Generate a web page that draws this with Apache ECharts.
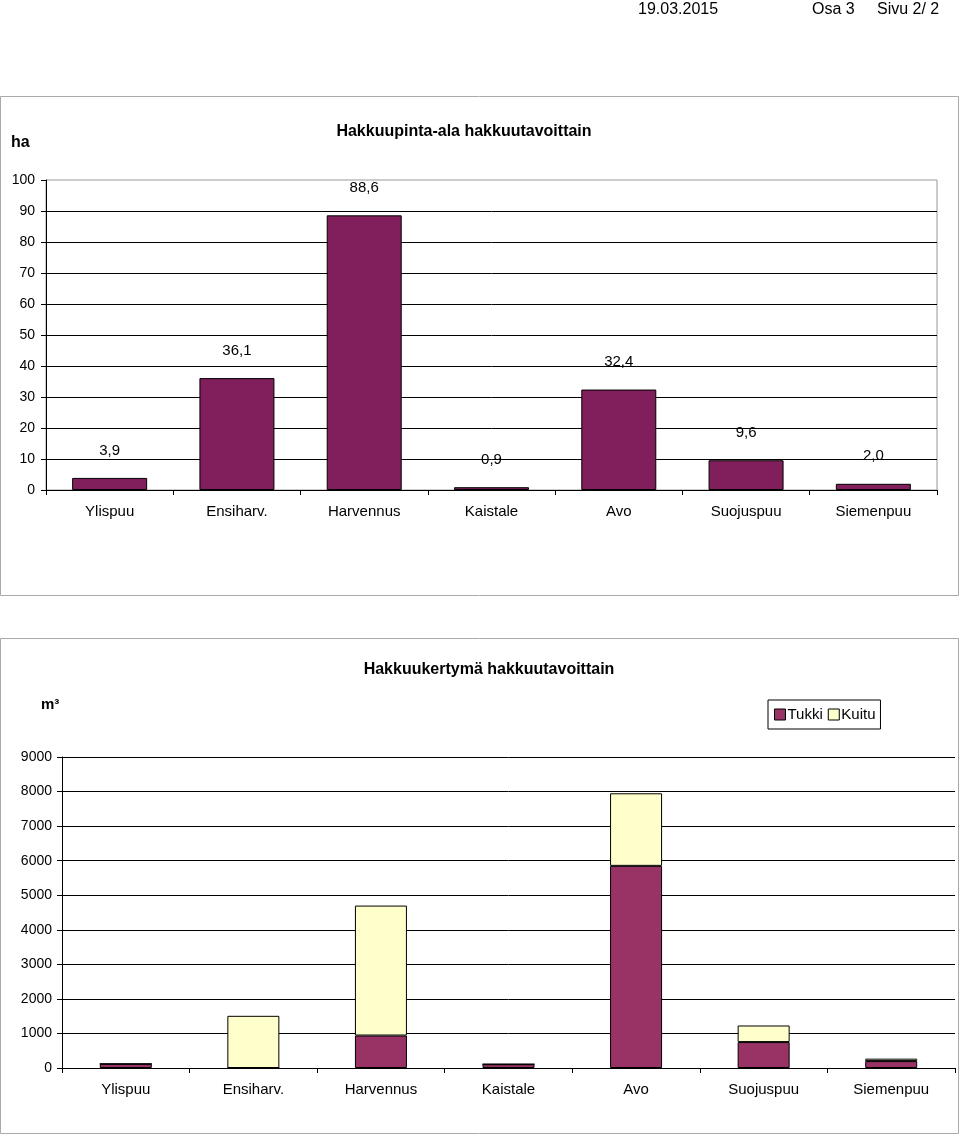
<!DOCTYPE html>
<html>
<head>
<meta charset="utf-8">
<script src="https://cdn.jsdelivr.net/npm/echarts@6/dist/echarts.min.js"></script>
<style>
html,body{margin:0;padding:0;background:#fff;}
#c{width:960px;height:1136px;}
</style>
</head>
<body>
<div id="c"></div>
<script>
// ---- data ----
const categories = ['Ylispuu', 'Ensiharv.', 'Harvennus', 'Kaistale', 'Avo', 'Suojuspuu', 'Siemenpuu'];
const areaHa = [3.9, 36.1, 88.6, 0.9, 32.4, 9.6, 2.0];
const tukki = [120, 0, 940, 110, 5850, 750, 200];
const kuitu = [0, 1510, 3760, 0, 2100, 480, 70];
const title1 = 'Hakkuupinta-ala hakkuutavoittain';
const title2 = 'Hakkuukertymä hakkuutavoittain';
const unit1 = 'ha';
const unit2 = 'm³';
const headerDate = '19.03.2015';
const headerOsa = 'Osa 3';
const headerSivu = 'Sivu 2/ 2';

const FONT = '"Liberation Sans", Arial, sans-serif';
const chart = echarts.init(document.getElementById('c'), null, {renderer: 'canvas'});

const axisLabelBase = {color: '#000', fontFamily: FONT, fontSize: 14};

chart.setOption({
  animation: false,
  backgroundColor: '#fff',
  textStyle: {fontFamily: FONT, color: '#000'},
  title: [
    {text: title1, left: 464, top: 124, textAlign: 'center', padding: 0,
     textStyle: {fontSize: 16, fontWeight: 'bold', color: '#000', fontFamily: FONT}},
    {text: unit1, left: 11, top: 135, padding: 0,
     textStyle: {fontSize: 16, fontWeight: 'bold', color: '#000', fontFamily: FONT}},
    {text: title2, left: 489, top: 662, textAlign: 'center', padding: 0,
     textStyle: {fontSize: 16, fontWeight: 'bold', color: '#000', fontFamily: FONT}},
    {text: unit2, left: 41, top: 697, padding: 0,
     textStyle: {fontSize: 15, fontWeight: 'bold', color: '#000', fontFamily: FONT}}
  ],
  graphic: [
    {type: 'rect', shape: {x: 0.5, y: 96.5, width: 958, height: 499}, style: {fill: 'none', stroke: '#aaa', lineWidth: 1}, silent: true},
    {type: 'rect', shape: {x: 0.5, y: 638.5, width: 958, height: 495}, style: {fill: 'none', stroke: '#aaa', lineWidth: 1}, silent: true},
    {type: 'text', left: 638, top: 2, style: {text: headerDate, font: '16px ' + FONT, fill: '#000'}},
    {type: 'text', left: 812, top: 2, style: {text: headerOsa, font: '16px ' + FONT, fill: '#000'}},
    {type: 'text', left: 877, top: 2, style: {text: headerSivu, font: '16px ' + FONT, fill: '#000'}}
  ],
  legend: {
    data: ['Tukki', 'Kuitu'],
    left: 768, top: 700,
    orient: 'horizontal',
    icon: 'rect',
    itemWidth: 11, itemHeight: 11, itemGap: 5,
    padding: [7, 5, 7, 6],
    borderColor: '#000', borderWidth: 1,
    textStyle: {fontSize: 15, color: '#000', fontFamily: FONT, padding: [0, 0, 0, -3]},
    itemStyle: {borderColor: '#000', borderWidth: 1}
  },
  grid: [
    {left: 46, top: 180, width: 891, height: 310, show: true, borderColor: '#999', borderWidth: 1, containLabel: false},
    {left: 62, top: 757, width: 893, height: 311, show: false, containLabel: false}
  ],
  xAxis: [
    {type: 'category', gridIndex: 0, data: categories, boundaryGap: true,
     axisLine: {show: true, lineStyle: {color: '#000', width: 1}},
     axisTick: {show: true, length: 5, lineStyle: {color: '#000'}},
     axisLabel: Object.assign({}, axisLabelBase, {fontSize: 15, margin: 14})},
    {type: 'category', gridIndex: 1, data: categories, boundaryGap: true,
     axisLine: {show: true, lineStyle: {color: '#000', width: 1}},
     axisTick: {show: true, length: 5, lineStyle: {color: '#000'}},
     axisLabel: Object.assign({}, axisLabelBase, {fontSize: 15, margin: 14})}
  ],
  yAxis: [
    {type: 'value', gridIndex: 0, min: 0, max: 100, interval: 10,
     axisLine: {show: true, lineStyle: {color: '#000', width: 1}},
     axisTick: {show: true, length: 5, lineStyle: {color: '#000'}},
     axisLabel: Object.assign({}, axisLabelBase, {margin: 11, formatter: v => String(v)}),
     splitLine: {show: true, showMaxLine: false, lineStyle: {color: '#000', width: 1}}},
    {type: 'value', gridIndex: 1, min: 0, max: 9000, interval: 1000,
     axisLine: {show: true, lineStyle: {color: '#000', width: 1}},
     axisTick: {show: true, length: 5, lineStyle: {color: '#000'}},
     axisLabel: Object.assign({}, axisLabelBase, {margin: 10, formatter: v => String(v)}),
     splitLine: {show: true, lineStyle: {color: '#000', width: 1}}}
  ],
  series: [
    {name: 'Hakkuupinta-ala', type: 'bar', xAxisIndex: 0, yAxisIndex: 0, data: areaHa,
     barWidth: 75,
     itemStyle: {color: '#801F5C', borderColor: '#000', borderWidth: 1},
     label: {show: true, position: 'top', distance: 20, color: '#000', fontSize: 15, fontFamily: FONT,
       formatter: p => p.value.toFixed(1).replace('.', ',')}},
    {name: 'Tukki', type: 'bar', xAxisIndex: 1, yAxisIndex: 1, stack: 'v', data: tukki,
     barWidth: 52,
     itemStyle: {color: '#993366', borderColor: '#000', borderWidth: 1}},
    {name: 'Kuitu', type: 'bar', xAxisIndex: 1, yAxisIndex: 1, stack: 'v', data: kuitu,
     barWidth: 52,
     itemStyle: {color: '#FFFFCC', borderColor: '#000', borderWidth: 1}}
  ]
});
</script>
</body>
</html>
